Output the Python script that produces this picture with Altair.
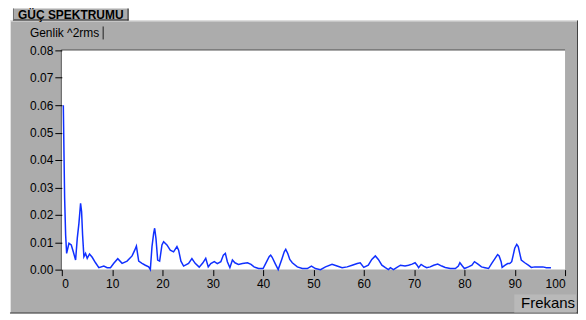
import altair as alt
import pandas as pd

# ---- data ----
freq = [0.3, 0.45, 0.56, 0.76, 0.96, 1.42, 1.88, 2.28, 2.74, 3.07, 3.40, 3.73, 3.93, 4.13, 4.39,
        4.72, 5.05, 5.51, 6.04, 6.70, 7.36, 8.35, 9.01, 9.67, 10.33, 11.12, 11.98, 12.97, 13.96,
        14.49, 14.82, 15.28, 15.94, 16.60, 17.26, 17.59, 17.92, 18.25, 18.45, 18.71, 19.05, 19.44,
        19.90, 20.23, 20.89, 21.55, 22.21, 22.88, 23.21, 23.67, 24.20, 25.19, 25.85, 26.50, 27.3,
        28.0, 28.6, 29.1, 29.6, 30.3, 30.9, 31.6, 32.1, 32.5, 32.9, 33.4, 33.9, 34.4, 35.1, 35.9,
        36.9, 37.6, 38.2, 39.1, 40.0, 40.5, 41.2, 41.5, 41.8, 42.4, 43.0, 43.7, 44.2, 44.5, 44.9,
        45.3, 45.8, 46.8, 47.8, 48.8, 49.6, 50.4, 51.4, 52.4, 53.7, 54.7, 55.7, 56.7, 57.7, 58.7,
        59.3, 60.0, 60.9, 61.6, 62.3, 62.9, 63.6, 64.3, 64.9, 65.3, 65.9, 66.6, 67.3, 68.2, 68.9,
        69.6, 70.2, 70.6, 70.9, 71.4, 71.9, 72.5, 73.2, 73.9, 74.7, 75.5, 76.2, 77.2, 78.2, 78.8,
        79.1, 79.6, 80.0, 80.8, 81.5, 82.0, 82.7, 83.4, 84.1, 84.8, 85.4, 86.1, 86.6, 86.9, 87.3,
        87.5, 88.1, 88.6, 89.0, 89.4, 89.7, 90.0, 90.4, 90.7, 91.0, 91.3, 92.0, 92.7, 93.3, 94.0,
        95.0, 95.6, 96.3, 97.2]
power = [0.060, 0.040, 0.0261, 0.0126, 0.0059, 0.0096, 0.0090, 0.0065, 0.0035, 0.0114, 0.0169,
         0.0242, 0.0212, 0.0126, 0.0047, 0.0059, 0.0041, 0.0057, 0.0045, 0.0025, 0.0007, 0.0013,
         0.0007, 0.0007, 0.0023, 0.0040, 0.0023, 0.0031, 0.0050, 0.0071, 0.0086, 0.0031, 0.0023,
         0.0016, 0.0010, 0.0, 0.0084, 0.0132, 0.0151, 0.0114, 0.0035, 0.0031, 0.0090, 0.0102,
         0.0090, 0.0071, 0.0065, 0.0084, 0.0071, 0.0031, 0.0013, 0.0023, 0.0040, 0.0023, 0.0009,
         0.0024, 0.0041, 0.0010, 0.0022, 0.0029, 0.0022, 0.0029, 0.0053, 0.0059, 0.0029, 0.0007,
         0.0035, 0.0025, 0.0019, 0.0022, 0.0025, 0.0019, 0.0010, 0.0004, 0.0004, 0.0022, 0.0047,
         0.0053, 0.0045, 0.0022, 0.0, 0.0037, 0.0065, 0.0074, 0.0059, 0.0037, 0.0025, 0.0010,
         0.0004, 0.0004, 0.0013, 0.0004, 0.0, 0.0010, 0.0019, 0.0013, 0.0007, 0.0010, 0.0016,
         0.0022, 0.0025, 0.0008, 0.0016, 0.0037, 0.0050, 0.0037, 0.0016, 0.0007, 0.0, 0.0007,
         0.0, 0.0008, 0.0016, 0.0013, 0.0016, 0.0020, 0.0025, 0.0016, 0.0007, 0.0019, 0.0013,
         0.0007, 0.0010, 0.0016, 0.0020, 0.0013, 0.0008, 0.0004, 0.0004, 0.0013, 0.0025, 0.0013,
         0.0004, 0.0010, 0.0016, 0.0029, 0.0020, 0.0010, 0.0007, 0.0004, 0.0022, 0.0041, 0.0055,
         0.0050, 0.0029, 0.0008, 0.0016, 0.0022, 0.0022, 0.0029, 0.0053, 0.0078, 0.0092, 0.0084,
         0.0059, 0.0035, 0.0025, 0.0016, 0.0008, 0.0010, 0.0010, 0.0010, 0.0007, 0.0007]
y_ticks = [0.00, 0.01, 0.02, 0.03, 0.04, 0.05, 0.06, 0.07, 0.08]
x_ticks = [0, 10, 20, 30, 40, 50, 60, 70, 80, 90, 100]

title_text = "GÜÇ SPEKTRUMU"
y_title = "Genlik ^2rms"
x_title = "Frekans"

df = pd.DataFrame({"Frekans": freq, "Genlik": power})
one = alt.Data(values=[{"k": 0}])

W, H = 505, 220
FONT = "Liberation Sans"
PANEL = "#acacac"


def rect(x, x2, y, y2, fill, **kw):
    return alt.Chart(one).mark_rect(fill=fill, **kw).encode(
        x=alt.value(x), x2=alt.value(x2), y=alt.value(y), y2=alt.value(y2))


def rule(x, x2, y, y2, color, w=1):
    return alt.Chart(one).mark_rule(color=color, strokeWidth=w).encode(
        x=alt.value(x), x2=alt.value(x2), y=alt.value(y), y2=alt.value(y2))


def text(t, x, y, size, align="left", weight="normal"):
    return alt.Chart(one).mark_text(text=t, align=align, baseline="middle", font=FONT,
                                    fontSize=size, fontWeight=weight, color="black").encode(
        x=alt.value(x), y=alt.value(y))


panel = rect(-52, 518, -30, 264, PANEL)
bevel = (rule(-52, 518, -29.5, -29.5, "#e4e4e4") + rule(-51.5, -51.5, -30, 264, "#e4e4e4")
         + rule(517.5, 517.5, -30, 264, "#404040") + rule(-52, 518, 263.5, 263.5, "#404040"))
title_box = (rect(-49, 67, -42, -30, PANEL)
             + rule(66.5, 66.5, -42, -30, "#202020") + rule(-49, 67, -30.5, -30.5, "#202020")
             + rule(-48.5, -48.5, -42, -30, "#707070"))
title = text(title_text, 9, -35, 12, align="center", weight="bold")
ylab = text(y_title, -32, -17, 12)
cursor = rule(41.5, 41.5, -24, -11, "#202020")
fbox = rect(454, 516, 245, 263, "#b9b9b9")
flab = text(x_title, 515, 254, 15, align="right")
plot_bg = rect(0, W, 0, H, "white")
plot_edge = rule(-0.5, W, -0.5, -0.5, "#606060") + rule(-0.5, -0.5, -0.5, H, "#606060")

line = alt.Chart(df).mark_line(color="#1030ff", strokeWidth=1.5).encode(
    x=alt.X("Frekans:Q", scale=alt.Scale(domain=[0, 100], nice=False),
            axis=alt.Axis(values=x_ticks, format="d", title=None, tickSize=6,
                          labelPadding=3, zindex=2)),
    y=alt.Y("Genlik:Q", scale=alt.Scale(domain=[0, 0.08], nice=False),
            axis=alt.Axis(values=y_ticks, format=".2f", title=None, tickSize=7,
                          labelPadding=2, zindex=2)),
)

chart = alt.layer(panel, bevel, title_box, title, ylab, cursor, fbox, flab, plot_bg,
                  plot_edge, line).properties(
    width=W, height=H,
    autosize=alt.AutoSizeParams(type="none"),
    padding={"left": 54, "top": 42, "right": 13, "bottom": 44},
    background="white",
).configure_view(strokeWidth=0).configure_axis(
    grid=False, domain=False, labelFont=FONT, labelFontSize=12,
    labelColor="black", tickColor="black", tickWidth=1,
)

chart.save("out.html", embed_options={"renderer": "svg", "actions": False})
